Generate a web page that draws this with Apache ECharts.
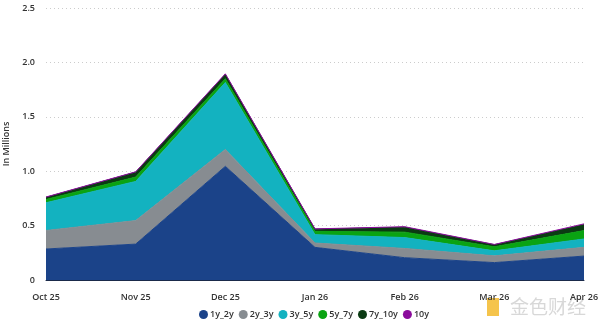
<!DOCTYPE html>
<html>
<head>
<meta charset="utf-8">
<script src="https://cdn.jsdelivr.net/npm/echarts@6/dist/echarts.min.js"></script>
<style>html,body{margin:0;padding:0;background:#fff}#c{width:600px;height:328px}</style>
</head>
<body>
<div id="c"></div>
<script>
var categories = ['Oct 25', 'Nov 25', 'Dec 25', 'Jan 26', 'Feb 26', 'Mar 26', 'Apr 26'];
var seriesNames = ['1y_2y', '2y_3y', '3y_5y', '5y_7y', '7y_10y', '10y'];
var v1y_2y  = [0.285, 0.330, 1.045, 0.300, 0.205, 0.160, 0.220];
var v2y_3y  = [0.170, 0.216, 0.155, 0.040, 0.085, 0.062, 0.080];
var v3y_5y  = [0.255, 0.360, 0.615, 0.077, 0.100, 0.046, 0.077];
var v5y_7y  = [0.030, 0.040, 0.035, 0.030, 0.050, 0.037, 0.077];
var v7y_10y = [0.020, 0.045, 0.040, 0.020, 0.045, 0.019, 0.055];
var v10y    = [0.003, 0.003, 0.005, 0.003, 0.005, 0.003, 0.007];
var yTicks = [0, 0.5, 1.0, 1.5, 2.0, 2.5];
var colors = ['#1b4389', '#878c91', '#13b2c0', '#0aa312', '#0b3b13', '#8b0c9c'];

var values = [v1y_2y, v2y_3y, v3y_5y, v5y_7y, v7y_10y, v10y];
var font = '"Open Sans", "Noto Sans", sans-serif';
var chart = echarts.init(document.getElementById('c'), null, {renderer: 'canvas'});
chart.setOption({
  animation: false,
  color: colors,
  grid: {left: 46, right: 16, top: 8, bottom: 48, containLabel: false, outerBoundsMode: 'none'},
  xAxis: {
    type: 'category',
    data: categories,
    boundaryGap: false,
    axisLine: {show: true, lineStyle: {color: '#1a2a4a', width: 1}},
    axisTick: {show: false},
    axisLabel: {color: '#333', fontFamily: font, fontWeight: 600, fontSize: 9, margin: 13, interval: 0},
    splitLine: {show: false}
  },
  yAxis: {
    type: 'value',
    min: yTicks[0],
    max: yTicks[yTicks.length - 1],
    interval: 0.5,
    name: 'In Millions',
    nameLocation: 'middle',
    nameGap: 28,
    nameRotate: 90,
    nameTextStyle: {color: '#333', fontFamily: font, fontWeight: 600, fontSize: 9},
    axisLine: {show: false},
    axisTick: {show: false},
    axisLabel: {color: '#333', fontFamily: font, fontWeight: 600, fontSize: 9, margin: 11,
      formatter: function (v) { return v === 0 ? '0' : v.toFixed(1); }},
    splitLine: {show: true, lineStyle: {color: '#ccc', type: [1, 3], width: 1}}
  },
  legend: {
    bottom: 4,
    left: 194,
    icon: 'circle',
    itemWidth: 9,
    itemHeight: 9,
    itemGap: 5,
    textStyle: {color: '#333', fontFamily: font, fontWeight: 600, fontSize: 9, padding: [0, 0, 0, -3]},
    data: seriesNames
  },
  series: seriesNames.map(function (n, i) {
    return {
      name: n,
      type: 'line',
      stack: 'total',
      data: values[i],
      showSymbol: false,
      symbol: 'none',
      lineStyle: {width: 1, color: colors[i]},
      areaStyle: {color: colors[i], opacity: 1}
    };
  }),
  graphic: [
    {type: 'rect', left: 487, top: 298, shape: {width: 12, height: 18}, style: {fill: '#f3b51f', opacity: 0.8}},
    {type: 'text', left: 510, top: 297, style: {text: '金色财经', fill: '#d8d8d8', fontSize: 19, fontFamily: '"Noto Sans CJK SC", sans-serif'}}
  ]
});
</script>
</body>
</html>
